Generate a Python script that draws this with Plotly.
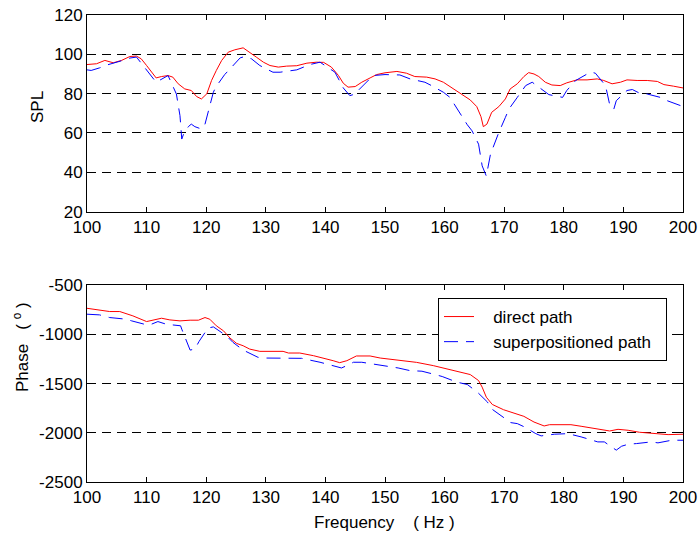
import plotly.graph_objects as go
from plotly.subplots import make_subplots

# SPL, direct path
f_spl_direct = [100, 101.6, 103, 104.4, 105.8, 107.2, 108.3, 109.1, 110, 110.8, 111.6, 112.5,
                113.6, 114.4, 115.3, 116.4, 117.5, 118.4, 119.2, 120.1, 120.9, 121.7, 122.6,
                123.7, 124.8, 126.2, 127.3, 128.4, 129.6, 130.7, 132.1, 133.5, 135.2, 136.9,
                138.5, 139.7, 141.0, 142.2, 143, 143.8, 145, 146.1, 147.5, 148.6, 150, 152,
                153.6, 155, 157, 158.4, 159.8, 160.9, 162.1, 163.2, 164.3, 165.4, 166.1, 166.5,
                167.1, 167.9, 169.1, 170.2, 171, 172.2, 173.3, 174.1, 175, 175.8, 176.9, 178,
                179.4, 180.5, 182.2, 183.9, 185.6, 186.7, 188.1, 189.5, 190.6, 192.3, 194,
                195.7, 196.8, 198.4, 200]
spl_direct = [94.8, 95.2, 96.9, 95.7, 96.9, 98.9, 99.1, 97.7, 94.3, 90.9, 88.0, 88.7,
              89.2, 88.4, 85.0, 82.4, 81.6, 78.5, 77.3, 79.9, 86.7, 91.8, 96.9,
              101.1, 102.3, 103.3, 101.1, 98.6, 96.0, 94.3, 93.5, 94.0, 94.2, 95.5,
              96.0, 95.9, 93.5, 89.2, 85.3, 83.3, 83.6, 85.8, 88.0, 89.7, 90.6, 91.3,
              90.4, 88.7, 88.4, 87.5, 85.8, 83.6, 81.0, 79.0, 76.8, 73.4, 68.3, 63.2,
              64.5, 70.5, 73.4, 77.3, 82.4, 85.0, 88.7, 90.7, 90.0, 88.7, 85.8, 84.4,
              84.1, 85.5, 87.0, 87.0, 87.5, 86.7, 85.0, 85.8, 87.0, 86.7, 86.7,
              86.2, 84.6, 83.8, 82.9]

# SPL, superpositioned path
f_spl_super = [100, 100.7, 102.1, 103.5, 106, 107.2, 108.3, 109.4, 110.5, 111.6, 113.6, 115,
               115.6, 115.9, 116.2, 117, 117.5, 118.1, 119.2, 119.8, 120.5, 121.2, 121.6,
               123.1, 124, 125.7, 126.5, 127.6, 129, 131.2, 132.4, 135.2, 137.4, 139.1,
               141.6, 143, 144.1, 145, 145.5, 147.2, 148, 150, 152.5, 154.2, 156.7, 157.8,
               159.8, 160.9, 162.3, 163.8, 164.6, 165.7, 166.3, 167, 167.7, 168.5, 169.1,
               170.2, 170.8, 172.2, 173.6, 174.7, 176.7, 177.5, 179.8, 180.5, 182, 184.5,
               185.3, 187, 187.8, 188.4, 188.8, 190.6, 191.5, 192.6, 194, 196.2, 197,
               199.6, 200]
spl_super = [92.1, 91.8, 93.1, 94.7, 96.9, 98.1, 98.6, 94.3, 90.0, 85.8, 89.2, 79.8,
             68.8, 56.9, 59.4, 63.2, 64.5, 63.2, 62.0, 64.5, 72.6, 80.7, 83.3,
             89.7, 92.6, 98.2, 98.9, 97.7, 94.3, 90.9, 90.9, 92.1, 94.8, 96.0,
             90.9, 82.9, 79.0, 79.8, 81.6, 87.0, 89.2, 89.7, 89.5, 87.5, 85.8, 84.1,
             80.7, 78.1, 71.3, 64.2, 61.1, 54.3, 43.3, 38.1, 49.2, 56.0, 60.3,
             67.9, 72.2, 78.1, 84.1, 85.8, 81.6, 79.5, 78.1, 81.6, 86.7, 91.0,
             90.4, 84.1, 73.0, 72.2, 76.4, 81.6, 82.1, 80.4, 79.8, 78.1, 76.8,
             73.9, 73.0]

# Phase, direct path
f_ph_direct = [100, 101.3, 103.8, 105.5, 107.7, 110, 111.1, 112.5, 113.9, 115.6, 117.3, 118.7,
               119.8, 120.6, 121.7, 122.9, 124, 125.1, 126.2, 127.3, 129, 130.1, 132.9,
               133.8, 135.7, 138, 139.9, 141.3, 142.4, 143.6, 145.2, 147.5, 149.2, 150.6,
               152.5, 155.3, 158.1, 160.4, 162.6, 164.3, 165.7, 166.3, 167, 168, 169.9,
               171.6, 173.3, 175, 176.7, 177.6, 181.2, 182.9, 185.1, 187.7, 189.1, 190.8,
               192.7, 195.3, 197.5, 200]
ph_direct = [-733, -743, -766, -766, -810, -868, -854, -834, -851, -861, -854, -854,
             -827, -844, -911, -962, -1036, -1090, -1114, -1148, -1171, -1171, -1171,
             -1188, -1188, -1215, -1242, -1266, -1286, -1266, -1218, -1218, -1239, -1249,
             -1266, -1283, -1316, -1350, -1384, -1407, -1468, -1535, -1637, -1711, -1765,
             -1795, -1832, -1890, -1930, -1917, -1917, -1933, -1957, -1981, -1964, -1974,
             -1994, -2008, -2018, -2014]

# Phase, superpositioned path
f_ph_super = [100, 102.1, 103.8, 106.6, 107.5, 110, 110.8, 111.9, 113.3, 115.7, 115.9, 116.7,
              117.3, 118.1, 118.8, 120.3, 121.2, 123.4, 124.5, 126.2, 128.7, 129.9, 132.4,
              136, 139.1, 140.2, 142.7, 143.6, 144.7, 146.1, 148.6, 150, 152.2, 154.2,
              156.2, 158.4, 159.6, 162.1, 163.8, 165.5, 167.2, 167.7, 170, 171.1, 172.2,
              173.4, 175.3, 176.2, 178.4, 180.7, 182.9, 185.7, 186.8, 188.8, 189.7, 190.8,
              192.2, 194.7, 195.8, 198.1, 200]
ph_super = [-793, -800, -827, -844, -861, -901, -895, -868, -895, -911, -945, -1063,
            -1158, -1148, -1070, -935, -922, -1013, -1080, -1158, -1232, -1239, -1242,
            -1242, -1282, -1299, -1340, -1316, -1282, -1282, -1306, -1316, -1340, -1367,
            -1373, -1407, -1427, -1485, -1508, -1586, -1687, -1748, -1846, -1896, -1906,
            -1940, -2008, -2031, -2014, -2008, -2041, -2092, -2092, -2176, -2136, -2116,
            -2109, -2092, -2102, -2075, -2075]

x_ticks = list(range(100, 201, 10))
spl_ticks = list(range(20, 121, 20))
phase_ticks = list(range(-2500, -499, 500))
phase_ticktext = [str(v) for v in phase_ticks]  # plain hyphen-minus labels

FONT = "Arial, Liberation Sans, sans-serif"
FS = 17
RED = "#ff0000"
BLUE = "#0000ff"
BLUE_DASH = "14px,8px"
GRID_DASH = "9px,6px"
NB = "\u00a0"

# figure geometry in pixels
W, H = 699, 537
ML, MR, MT, MB = 87, 16, 15, 55
PW, PH = W - ML - MR, H - MT - MB

fig = make_subplots(rows=2, cols=1, vertical_spacing=0.158)

fig.add_trace(go.Scatter(x=f_spl_direct, y=spl_direct, mode="lines",
                         line=dict(color=RED, width=1), showlegend=False), row=1, col=1)
fig.add_trace(go.Scatter(x=f_spl_super, y=spl_super, mode="lines",
                         line=dict(color=BLUE, width=1, dash=BLUE_DASH), showlegend=False),
              row=1, col=1)
fig.add_trace(go.Scatter(x=f_ph_direct, y=ph_direct, mode="lines",
                         name=NB * 3 + "direct path",
                         line=dict(color=RED, width=1)), row=2, col=1)
fig.add_trace(go.Scatter(x=f_ph_super, y=ph_super, mode="lines",
                         name=NB * 3 + "superpositioned path" + NB * 2,
                         line=dict(color=BLUE, width=1, dash=BLUE_DASH)), row=2, col=1)

axis_common = dict(showline=True, linecolor="black", linewidth=1, mirror="allticks",
                   ticks="inside", ticklen=5, tickcolor="black", zeroline=False,
                   automargin=False,
                   tickfont=dict(family=FONT, size=FS, color="black"))

for r in (1, 2):
    fig.update_xaxes(range=[100, 200], tickvals=x_ticks, showgrid=False, row=r, col=1,
                     **axis_common)

fig.update_yaxes(range=[20, 120], tickvals=spl_ticks, showgrid=True, gridcolor="black",
                 griddash=GRID_DASH, gridwidth=1, row=1, col=1, **axis_common)
fig.update_yaxes(range=[-2500, -500], tickvals=phase_ticks, ticktext=phase_ticktext,
                 showgrid=True, gridcolor="black", griddash=GRID_DASH, gridwidth=1,
                 row=2, col=1, **axis_common)


def px_to_paper(x, y):
    return (x - ML) / PW, (H - MB - y) / PH


def label(text, x, y, angle=0):
    px, py = px_to_paper(x, y)
    return dict(text=text, textangle=angle, x=px, y=py, xref="paper", yref="paper",
                xanchor="center", yanchor="middle", showarrow=False,
                font=dict(family=FONT, size=FS, color="black"))


leg_x, leg_y = px_to_paper(438, 298)

fig.update_layout(
    width=W, height=H,
    margin=dict(l=ML, r=MR, t=MT, b=MB, autoexpand=False),
    paper_bgcolor="white", plot_bgcolor="white",
    font=dict(family=FONT, size=FS, color="black"),
    legend=dict(x=leg_x, y=leg_y, xanchor="left", yanchor="top",
                bgcolor="white", bordercolor="black", borderwidth=1,
                font=dict(family=FONT, size=FS, color="black")),
    annotations=[
        label("SPL", 37, 107, -90),
        label("Phase" + NB * 3 + "(" + NB + "<sup>o</sup>" + NB + ")", 21, 347, -90),
        label("Frequency" + NB * 4 + "(" + NB + "Hz" + NB + ")", 384, 522),
    ],
)

fig.write_html("out.html")
